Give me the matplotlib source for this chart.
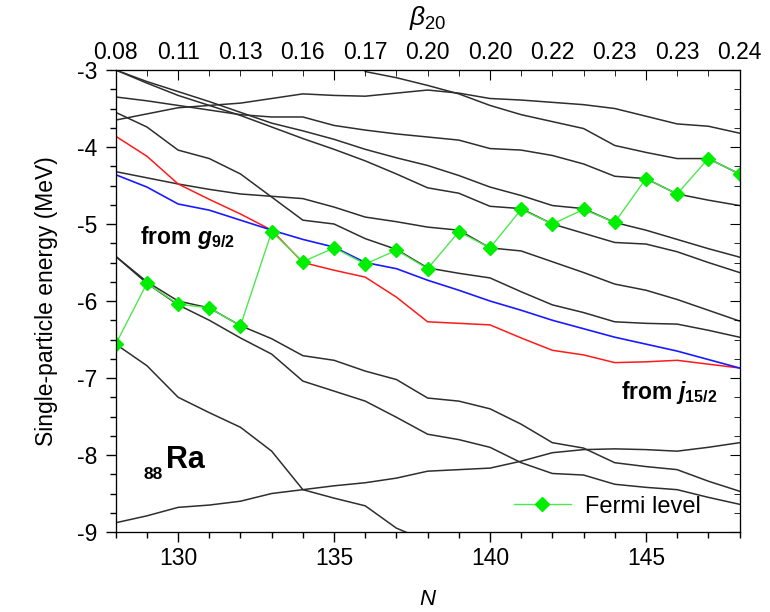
import matplotlib
matplotlib.use("Agg")
import matplotlib.pyplot as plt
from matplotlib.ticker import MultipleLocator, FixedLocator

plt.rcParams['font.family'] = ['Liberation Sans', 'DejaVu Sans']
plt.rcParams['axes.unicode_minus'] = False
plt.rcParams['mathtext.fontset'] = 'custom'
plt.rcParams['mathtext.rm'] = 'Liberation Sans'
plt.rcParams['mathtext.it'] = 'Liberation Sans:italic'
plt.rcParams['mathtext.bf'] = 'Liberation Sans:bold'
plt.rcParams['mathtext.bfit'] = 'Liberation Sans:italic:bold'

# Neutron number axis
neutrons = list(range(128, 149))
neutrons_g = list(range(136, 149))
neutrons_k = list(range(128, 139))

# Deformation shown on the top axis
beta_positions = [128, 130, 132, 134, 136, 138, 140, 142, 144, 146, 148]
beta_labels = ['0.08', '0.11', '0.13', '0.16', '0.17', '0.20', '0.20',
               '0.22', '0.23', '0.23', '0.24']

# Single-particle levels (MeV), black
level_a = [-3.00, -3.15, -3.28, -3.41, -3.55, -3.69, -3.79, -3.90, -4.03, -4.14, -4.24,
           -4.37, -4.52, -4.63, -4.76, -4.80, -4.98, -5.08, -5.20, -5.32, -5.43]
level_b = [-3.00, -3.17, -3.33, -3.46, -3.59, -3.74, -3.89, -4.03, -4.18, -4.35, -4.53,
           -4.60, -4.77, -4.80, -5.00, -5.12, -5.24, -5.26, -5.36, -5.50, -5.63]
level_c = [-3.35, -3.40, -3.46, -3.52, -3.58, -3.61, -3.61, -3.72, -3.78, -3.83, -3.87,
           -3.91, -4.02, -4.04, -4.11, -4.22, -4.38, -4.41, -4.61, -4.69, -4.76]
level_d = [-3.65, -3.57, -3.49, -3.46, -3.43, -3.37, -3.31, -3.33, -3.34, -3.30, -3.26,
           -3.30, -3.37, -3.39, -3.42, -3.45, -3.50, -3.60, -3.70, -3.73, -3.82]
level_e = [-3.55, -3.74, -4.04, -4.15, -4.35, -4.65, -4.95, -5.00, -5.19, -5.33, -5.57,
           -5.64, -5.70, -5.88, -6.05, -6.15, -6.27, -6.29, -6.30, -6.38, -6.47]
level_f = [-4.32, -4.40, -4.48, -4.55, -4.61, -4.64, -4.67, -4.78, -4.91, -4.97, -5.04,
           -5.08, -5.31, -5.35, -5.49, -5.63, -5.78, -5.86, -5.98, -6.12, -6.26]
level_g = [-3.02, -3.10, -3.20, -3.31, -3.46, -3.58, -3.67, -3.76, -3.98, -4.07, -4.15,
           -4.15, -4.35]
level_h = [-5.42, -5.75, -6.00, -6.09, -6.32, -6.49, -6.71, -6.77, -6.91, -7.02, -7.26,
           -7.30, -7.40, -7.60, -7.84, -7.91, -8.10, -8.15, -8.19, -8.34, -8.47]
level_i = [-5.42, -5.77, -6.05, -6.25, -6.48, -6.69, -7.04, -7.17, -7.30, -7.51, -7.73,
           -7.80, -7.90, -8.10, -8.24, -8.26, -8.38, -8.42, -8.45, -8.55, -8.64]
level_j = [-8.88, -8.79, -8.68, -8.65, -8.60, -8.50, -8.45, -8.40, -8.36, -8.30, -8.21,
           -8.19, -8.17, -8.08, -7.97, -7.93, -7.92, -7.93, -7.95, -7.90, -7.84]
level_k = [-6.56, -6.84, -7.25, -7.45, -7.64, -7.95, -8.45, -8.56, -8.66, -8.95, -9.12]

# Levels from j15/2 (red) and g9/2 (blue)
level_j15 = [-3.86, -4.12, -4.48, -4.68, -4.87, -5.08, -5.50, -5.60, -5.69, -5.95, -6.27,
             -6.29, -6.31, -6.48, -6.64, -6.70, -6.80, -6.79, -6.77, -6.82, -6.87]
level_g9 = [-4.36, -4.52, -4.74, -4.82, -4.95, -5.08, -5.20, -5.30, -5.50, -5.58, -5.73,
            -5.86, -6.00, -6.12, -6.25, -6.36, -6.47, -6.56, -6.65, -6.76, -6.87]

# Fermi level
fermi = [-6.56, -5.77, -6.04, -6.09, -6.32, -5.10, -5.49, -5.31, -5.52, -5.34, -5.58,
         -5.10, -5.31, -4.81, -5.00, -4.81, -4.98, -4.41, -4.61, -4.15, -4.35]

fig = plt.figure(figsize=(7.7, 6.12), dpi=100)
ax = fig.add_axes([0.1503, 0.1307, 0.8101, 0.7549])

black = '#2e2e2e'
for lev in (level_a, level_b, level_c, level_d, level_e, level_f, level_h, level_i, level_j):
    ax.plot(neutrons, lev, color=black, lw=1.1)
ax.plot(neutrons_g, level_g, color=black, lw=1.1)
ax.plot(neutrons_k, level_k, color=black, lw=1.1)
ax.plot(neutrons, level_j15, color='#ff1a1a', lw=1.1)
ax.plot(neutrons, level_g9, color='#1a1aff', lw=1.2)
ax.plot(neutrons, fermi, color='#4de84d', lw=1.0, marker='D', ms=7.5,
        mfc='#00ee00', mec='#00ee00', label='Fermi level', zorder=5)

ax.set_xlim(128, 148)
ax.set_ylim(-9, -3)
ax.xaxis.set_major_locator(FixedLocator([130, 135, 140, 145]))
ax.xaxis.set_minor_locator(MultipleLocator(1))
ax.yaxis.set_major_locator(MultipleLocator(1))
ax.yaxis.set_minor_locator(MultipleLocator(0.25))
ax.tick_params(which='both', direction='out', top=False, right=False, width=1.0)
ax.tick_params(which='major', length=7, labelsize=16.5)
ax.tick_params(axis='y', which='major', pad=6)
ax.tick_params(which='minor', length=4)
ax.set_xlabel('N', fontstyle='italic', fontsize=16, labelpad=14)
ax.set_ylabel('Single-particle energy (MeV)', fontsize=16.5, labelpad=14)

# Mirrored inward ticks on the top and right frame
ax_top = ax.twiny()
ax_top.set_xlim(128, 148)
ax_top.xaxis.set_major_locator(FixedLocator([130, 135, 140, 145]))
ax_top.xaxis.set_minor_locator(MultipleLocator(1))
ax_top.tick_params(which='both', direction='in', labeltop=False, top=True, bottom=False)
ax_top.tick_params(which='major', length=7)
ax_top.tick_params(which='minor', length=4)

ax_right = ax.twinx()
ax_right.set_ylim(-9, -3)
ax_right.yaxis.set_major_locator(MultipleLocator(1))
ax_right.yaxis.set_minor_locator(MultipleLocator(0.25))
ax_right.tick_params(which='both', direction='in', labelright=False, right=True, left=False)
ax_right.tick_params(which='major', length=7)
ax_right.tick_params(which='minor', length=4)

# Deformation labels on top
ax_beta = ax.twiny()
ax_beta.set_xlim(128, 148)
ax_beta.set_xticks(beta_positions)
ax_beta.set_xticklabels(beta_labels)
ax_beta.tick_params(axis='x', length=0, labelsize=16.5, pad=4)
ax_beta.set_xlabel(r'$\beta_{20}$', fontsize=19, labelpad=12)
for sp in ax_beta.spines.values():
    sp.set_visible(False)

ax.text(128.78, -5.17, r'from $\mathbfit{g}_{\mathbf{9/2}}$', fontsize=16.5,
        fontweight='bold', va='center', ha='left')
ax.text(144.2, -7.19, r'from $\mathbfit{j}_{\mathbf{15/2}}$', fontsize=16.5,
        fontweight='bold', va='center', ha='left')
ax.text(129.62, -8.17, 'Ra', fontsize=22, fontweight='bold', va='baseline', ha='left')
ax.text(128.9, -8.31, '88', fontsize=12.5, fontweight='bold', va='baseline', ha='left')

ax.legend(loc='lower right', bbox_to_anchor=(0.972, -0.015), frameon=False,
          fontsize=17, handlelength=2.4, handletextpad=0.6)

fig.savefig('out.png', dpi=100)
